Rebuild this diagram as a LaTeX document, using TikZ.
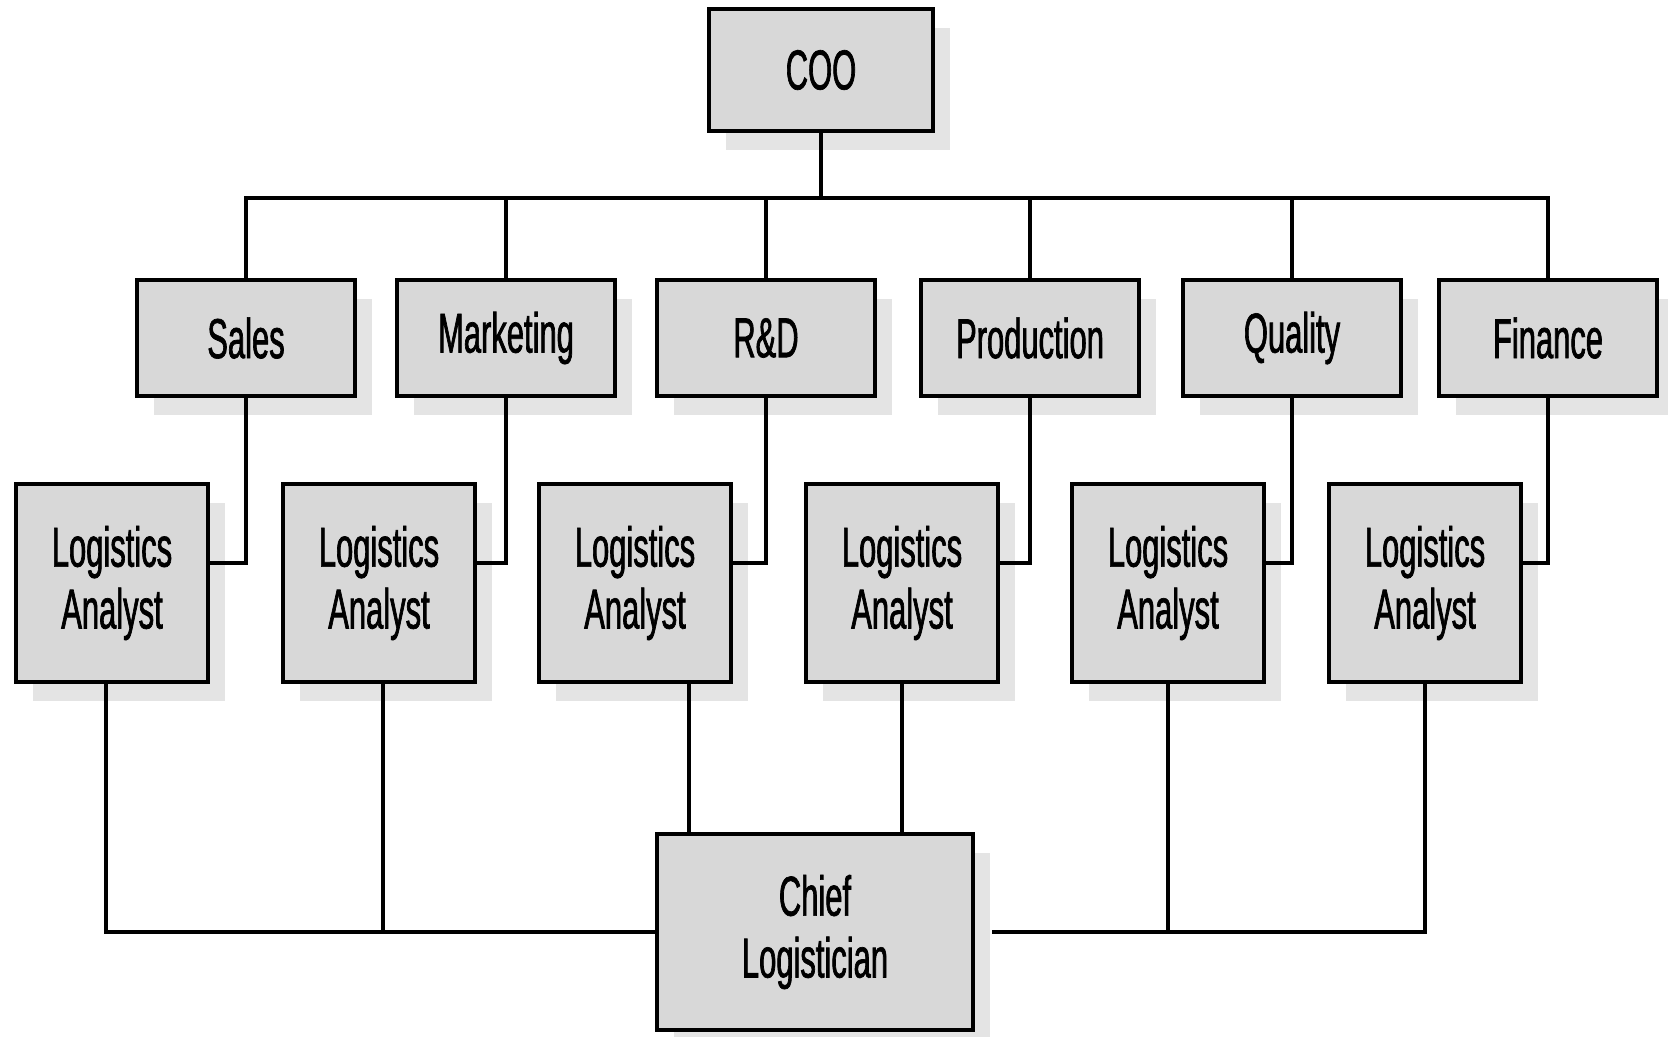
\documentclass[tikz,border=0pt]{standalone}
\usepackage{fontspec}
\setmainfont{Liberation Sans}[FakeStretch=0.55, FakeBold=1.2]
\usetikzlibrary{shadows}
\definecolor{BoxGray}{RGB}{216,216,216}
\definecolor{ShadowGray}{RGB}{228,228,228}

\tikzset{
  orgbox/.style={draw=black, line width=1.2mm, fill=BoxGray, align=center, inner sep=0pt,
    font=\fontsize{40}{44}\selectfont,
    drop shadow={shadow xshift=4.25mm, shadow yshift=-4.75mm, fill=ShadowGray, opacity=1}},
  topbox/.style={orgbox, minimum width=56mm, minimum height=30.5mm},
  deptbox/.style={orgbox, minimum width=54.5mm, minimum height=29mm},
  analystbox/.style={orgbox, minimum width=48mm, minimum height=49.5mm},
  chiefbox/.style={orgbox, minimum width=79mm, minimum height=49mm},
  orgline/.style={draw=black, line width=1.2mm}
}

\begin{document}
\begin{tikzpicture}[x=0.25mm, y=-0.25mm]
\useasboundingbox (0,0) rectangle (1668,1036); % page size in px of the reference

\node[topbox] (coo) at (821,70) {COO};
\coordinate (bus) at (821,198); % top bus

% departments
\node[deptbox] (sales) at (246,338) {Sales};
\node[deptbox] (mkt) at (506,338) {Marketing};
\node[deptbox] (rnd) at (766,338) {R\&D};
\node[deptbox] (prod) at (1030,338) {Production};
\node[deptbox] (qual) at (1292,338) {Quality};
\node[deptbox] (fin) at (1548,338) {Finance};

% analysts
\node[analystbox] (la1) at (112,583) {Logistics\\Analyst};
\node[analystbox] (la2) at (379,583) {Logistics\\Analyst};
\node[analystbox] (la3) at (635,583) {Logistics\\Analyst};
\node[analystbox] (la4) at (902,583) {Logistics\\Analyst};
\node[analystbox] (la5) at (1168,583) {Logistics\\Analyst};
\node[analystbox] (la6) at (1425,583) {Logistics\\Analyst};

\node[chiefbox] (chief) at (815,932) {Chief\\Logistician};

% COO to departments
\draw[orgline] (coo.south) -- (bus);
\draw[orgline] (sales.north) |- (bus) -| (fin.north);
\draw[orgline] (mkt.north) -- (mkt.north |- bus);
\draw[orgline] (rnd.north) -- (rnd.north |- bus);
\draw[orgline] (prod.north) -- (prod.north |- bus);
\draw[orgline] (qual.north) -- (qual.north |- bus);

% departments to analysts
\draw[orgline] (sales.south) |- ([yshift=5mm]la1.east);
\draw[orgline] (mkt.south) |- ([yshift=5mm]la2.east);
\draw[orgline] (rnd.south) |- ([yshift=5mm]la3.east);
\draw[orgline] (prod.south) |- ([yshift=5mm]la4.east);
\draw[orgline] (qual.south) |- ([yshift=5mm]la5.east);
\draw[orgline] (fin.south) |- ([yshift=5mm]la6.east);

% analysts to chief logistician
\coordinate (la1drop) at ([xshift=-1.5mm]la1.south);
\coordinate (la2drop) at ([xshift=1mm]la2.south);
\coordinate (la3drop) at ([xshift=13.5mm]la3.south);
\draw[orgline] (la1drop) |- (chief.west);
\draw[orgline] (la2drop) -- (la2drop |- chief.west);
\draw[orgline] (la3drop) -- (la3drop |- chief.north);
\draw[orgline] (la4.south) -- (la4.south |- chief.north);
\draw[orgline] (la5.south) -- (la5.south |- chief.east);
\draw[orgline] (la6.south) |- ([xshift=4.25mm]chief.east);

\end{tikzpicture}
\end{document}
